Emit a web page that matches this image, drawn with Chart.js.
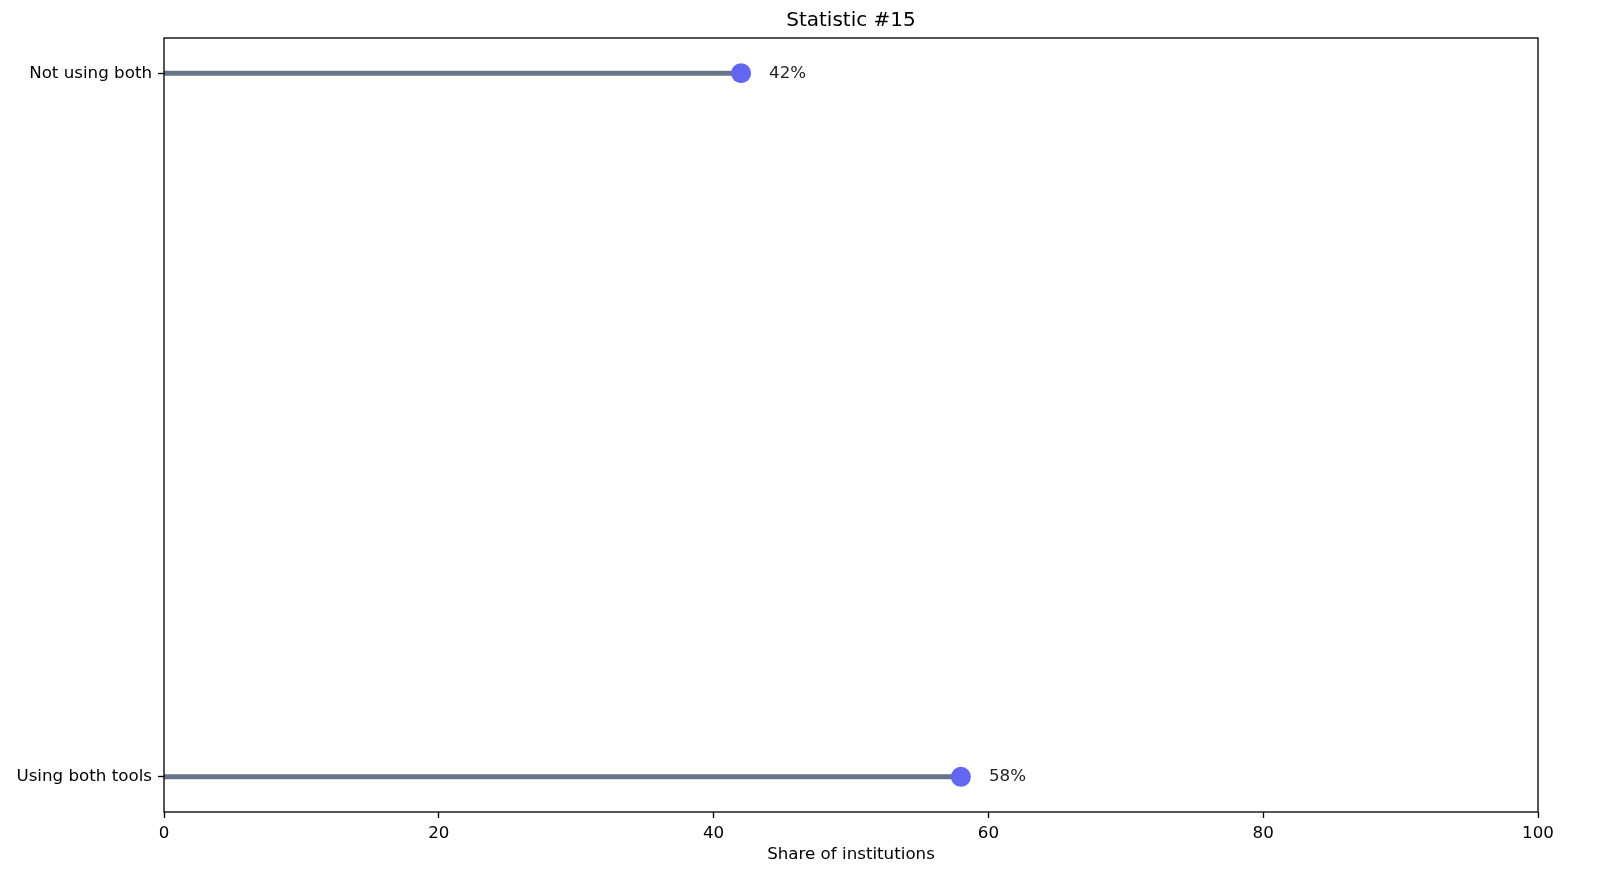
<!DOCTYPE html>
<html>
<head>
<meta charset="utf-8">
<script src="https://cdn.jsdelivr.net/npm/chart.js@4"></script>
<style>
  html, body { margin: 0; padding: 0; background: #fff; }
  #wrap { width: 1600px; height: 894px; }
</style>
</head>
<body>
<div id="wrap"><canvas id="lollipop"></canvas></div>
<script>
// data
const categories = ['Using both tools', 'Not using both'];
const shares = [58, 42];
const xTicks = [0, 20, 40, 60, 80, 100];

const stemColor = '#64748b';
const dotColor = '#6366f1';
const font = "'DejaVu Sans', sans-serif";

// one stem per category, from 0 to its value
const stems = categories.map((c, i) => ({
  label: c,
  data: [{ x: 0, y: i }, { x: shares[i], y: i }],
  showLine: true,
  borderColor: stemColor,
  borderWidth: 5,
  pointRadius: 0,
  order: 2
}));

const dots = {
  label: 'share',
  data: shares.map((v, i) => ({ x: v, y: i })),
  pointRadius: 10,
  pointHoverRadius: 10,
  backgroundColor: dotColor,
  borderWidth: 0,
  order: 1
};

const valueLabels = {
  id: 'valueLabels',
  afterDatasetsDraw(chart) {
    const ctx = chart.ctx;
    const xs = chart.scales.x, ys = chart.scales.y;
    ctx.save();
    ctx.font = '16.7px ' + font;
    ctx.fillStyle = '#222';
    ctx.textAlign = 'left';
    ctx.textBaseline = 'middle';
    shares.forEach((v, i) => {
      ctx.fillText(v + '%', xs.getPixelForValue(v) + 28, ys.getPixelForValue(i));
    });
    ctx.restore();
  }
};

const frame = {
  id: 'frame',
  afterDraw(chart) {
    const a = chart.chartArea;
    const ctx = chart.ctx;
    ctx.save();
    ctx.strokeStyle = '#000';
    ctx.lineWidth = 1.33;
    ctx.strokeRect(a.left, a.top, a.right - a.left, a.bottom - a.top);
    ctx.restore();
  }
};

new Chart(document.getElementById('lollipop').getContext('2d'), {
  type: 'scatter',
  data: { datasets: [...stems, dots] },
  options: {
    responsive: true,
    maintainAspectRatio: false,
    animation: false,
    layout: { padding: { left: 0, right: 62, top: 0, bottom: 0 } },
    plugins: {
      legend: { display: false },
      tooltip: { enabled: false },
      title: {
        display: true,
        text: 'Statistic #15',
        fullSize: false,
        color: '#000',
        font: { family: font, size: 20, weight: 'normal' },
        padding: { top: 9, bottom: 5 }
      }
    },
    scales: {
      x: {
        type: 'linear',
        min: 0,
        max: 100,
        afterBuildTicks: s => { s.ticks = xTicks.map(v => ({ value: v })); },
        afterFit: s => { s.height = 82; },
        ticks: { color: '#000', font: { family: font, size: 16.7 }, padding: 6, maxRotation: 0 },
        grid: { drawOnChartArea: false, color: '#000', tickLength: 6, tickWidth: 1.33 },
        border: { display: false },
        title: {
          display: true,
          text: 'Share of institutions',
          color: '#000',
          font: { family: font, size: 16.7 },
          padding: { top: 0, bottom: 29 }
        }
      },
      y: {
        type: 'linear',
        min: -0.05,
        max: 1.05,
        afterBuildTicks: s => { s.ticks = categories.map((c, i) => ({ value: i })); },
        afterFit: s => { s.width = 164; },
        ticks: {
          color: '#000',
          font: { family: font, size: 16.7 },
          padding: 6,
          callback: v => categories[v]
        },
        grid: { drawOnChartArea: false, color: '#000', tickLength: 6, tickWidth: 1.33 },
        border: { display: false }
      }
    }
  },
  plugins: [valueLabels, frame]
});
</script>
</body>
</html>
